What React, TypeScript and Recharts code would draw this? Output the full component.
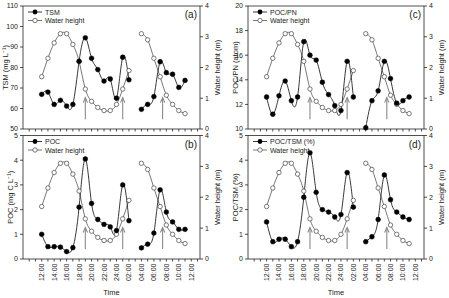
import { ComposedChart, Line, XAxis, YAxis, ReferenceLine } from 'recharts'

// hours after 12:00 on the first day; 03:00 (hour 15) was not sampled
const HOURS = [0, 1, 2, 3, 4, 5, 6, 7, 8, 9, 10, 11, 12, 13, 14, 15, 16, 17, 18, 19, 20, 21, 22, 23]

const WATER_HEIGHT = [1.7, 2.3, 2.8, 3.1, 3.1, 2.75, 2.2, 1.3, 0.9, 0.7, 0.6, 0.6, 0.8, 1.3, 1.9, null, 3.1, 2.9, 2.3, 1.7, 1.1, 0.8, 0.6, 0.5]
const TSM = [66.9, 68, 62, 64, 61.2, 62, 83, 94.5, 84.5, 79, 73.4, 74.4, 65, 85, 74, null, 59.6, 62, 65.8, 82.8, 77.5, 76.7, 70.3, 73.7]
const POC = [1.0, 0.5, 0.5, 0.48, 0.3, 0.46, 2.1, 4.05, 2.25, 1.6, 1.4, 1.3, 1.15, 3.0, 1.55, null, 0.45, 0.6, 1.05, 2.8, 1.9, 1.5, 1.2, 1.2]
const POC_PN = [12.6, 11.2, 12.7, 13.9, 12.3, 12.6, 17.1, 16.0, 15.6, 13.8, 12.8, 11.9, 11.5, 15.5, 12.6, null, 10.1, 12.3, 13.1, 15.5, 14.1, 12.1, 12.3, 12.6]
const POC_TSM = [1.5, 0.7, 0.8, 0.8, 0.5, 0.7, 2.5, 4.3, 2.7, 2.0, 1.9, 1.7, 1.8, 3.5, 2.1, null, 0.7, 0.9, 1.6, 3.4, 2.4, 1.9, 1.7, 1.6]

// slack / turning points marked with arrows (hours after 12:00)
const ARROW_HOURS = [7, 13, 19.4]
const ARROW_SPAN = [0.32, 1.02]

const X_TICKS = [-2, -1, 0, 1, 2, 3, 4, 5, 6, 7, 8, 9, 10, 11, 12, 13, 14, 15, 16, 17, 18, 19, 20, 21, 22, 23, 24, 25]
const HEIGHT_TICKS = [0, 1, 2, 3, 4]

const FONT = '"Liberation Sans", Arial, Helvetica, sans-serif'
const INK = '#222'

const fmtHour = (h: number) => {
  const c = 12 + h
  const v = c > 24 ? c - 24 : c
  return `${String(v).padStart(2, '0')}:00`
}

function TimeTick({ x, y, payload }: any) {
  const h = payload.value
  if (h < 0 || h > 24 || h % 2 !== 0) return <g />
  return (
    <text
      x={x}
      y={y}
      transform={`rotate(-90, ${x}, ${y})`}
      textAnchor="end"
      dominantBaseline="central"
      fontSize={7}
      fill={INK}
      fontFamily={FONT}
    >
      {fmtHour(h)}
    </text>
  )
}

// tick marks only, no labels
const BlankTick = () => <g />

function Arrow(p: any) {
  const { x1, y1, y2 } = p
  const top = Math.min(y1, y2)
  const bottom = Math.max(y1, y2)
  return (
    <g>
      <line x1={x1} y1={bottom} x2={x1} y2={top} stroke="#8a8a8a" strokeWidth={1.1} />
      <path d={`M${x1 - 2.2},${top + 5}L${x1},${top}L${x1 + 2.2},${top + 5}`} fill="none" stroke="#8a8a8a" strokeWidth={1.1} />
    </g>
  )
}

interface PanelProps {
  left: number
  top: number
  width: number
  height: number
  marginTop: number
  xHeight: number
  timeAxis: boolean
  values: (number | null)[]
  yDomain: [number, number]
  yTicks: number[]
  yLabel: string
  labelOffset: number
  name: string
  letter: string
}

function Panel(props: PanelProps) {
  const { left, top, width, height, marginTop, xHeight, timeAxis, values, yDomain, yTicks, yLabel, labelOffset, name, letter } = props
  const data = HOURS.map((h, i) => ({ hour: h, water: WATER_HEIGHT[i], value: values[i] }))
  const axisX = 23
  const plotRight = width - 25
  const plotTop = marginTop
  const tickStyle = { fontSize: 7, fill: INK, fontFamily: FONT }
  const labelStyle = { fontSize: 7.5, fill: INK, fontFamily: FONT, textAnchor: 'middle' as const }

  return (
    <div style={{ position: 'absolute', left, top, width, height }}>
      <ComposedChart width={width} height={height} data={data} margin={{ top: marginTop, right: 0, bottom: 0, left: 0 }}>
        <XAxis
          dataKey="hour"
          type="number"
          domain={[-3, 25.4]}
          allowDataOverflow
          ticks={X_TICKS}
          interval={0}
          height={xHeight}
          tick={timeAxis ? <TimeTick /> : <BlankTick />}
          tickSize={2.5}
          tickMargin={2}
          stroke={INK}
          strokeWidth={0.8}
          label={timeAxis ? { value: 'Time', position: 'insideBottom', offset: 3, style: labelStyle } : undefined}
        />
        <YAxis
          yAxisId="left"
          domain={yDomain}
          ticks={yTicks}
          interval={0}
          width={axisX}
          tickSize={3}
          tickMargin={2}
          tick={tickStyle}
          stroke={INK}
          strokeWidth={0.8}
          label={{ value: yLabel, angle: -90, position: 'insideLeft', offset: labelOffset, style: labelStyle }}
        />
        <YAxis
          yAxisId="right"
          orientation="right"
          domain={[0, 4]}
          ticks={HEIGHT_TICKS}
          interval={0}
          width={25}
          tickSize={3}
          tickMargin={2}
          tick={tickStyle}
          stroke={INK}
          strokeWidth={0.8}
          label={{ value: 'Water height (m)', angle: -90, position: 'insideLeft', offset: 17, style: labelStyle }}
        />
        <ReferenceLine yAxisId="left" y={yDomain[1]} stroke={INK} strokeWidth={0.8} />
        {ARROW_HOURS.map((h) => (
          <ReferenceLine
            key={h}
            yAxisId="right"
            segment={[{ x: h, y: ARROW_SPAN[0] }, { x: h, y: ARROW_SPAN[1] }]}
            shape={<Arrow />}
          />
        ))}
        <Line
          yAxisId="right"
          type="natural"
          dataKey="water"
          stroke="#555"
          strokeWidth={0.8}
          dot={{ r: 2.2, fill: '#fff', stroke: '#444', strokeWidth: 0.7 }}
          isAnimationActive={false}
        />
        <Line
          yAxisId="left"
          type="natural"
          dataKey="value"
          stroke={INK}
          strokeWidth={0.9}
          dot={{ r: 2.4, fill: '#000', stroke: '#000', strokeWidth: 0.5 }}
          isAnimationActive={false}
        />
      </ComposedChart>
      <svg width={width} height={height} style={{ position: 'absolute', left: 0, top: 0, pointerEvents: 'none' }}>
        <g fontFamily={FONT} fontSize={7} fill={INK}>
          <line x1={axisX + 5} x2={axisX + 19} y1={plotTop + 6} y2={plotTop + 6} stroke={INK} strokeWidth={0.9} />
          <circle cx={axisX + 12} cy={plotTop + 6} r={2.4} fill="#000" />
          <text x={axisX + 22} y={plotTop + 6} dominantBaseline="central">{name}</text>
          <line x1={axisX + 5} x2={axisX + 19} y1={plotTop + 14.5} y2={plotTop + 14.5} stroke="#555" strokeWidth={0.8} />
          <circle cx={axisX + 12} cy={plotTop + 14.5} r={2.2} fill="#fff" stroke="#444" strokeWidth={0.7} />
          <text x={axisX + 22} y={plotTop + 14.5} dominantBaseline="central">Water height</text>
        </g>
        <text x={plotRight - 3} y={plotTop + 8.5} textAnchor="end" dominantBaseline="central" fontFamily={FONT} fontSize={10} fill={INK}>
          {letter}
        </text>
      </svg>
    </div>
  )
}

export default function App() {
  return (
    <div style={{ position: 'absolute', left: 0, top: 0, width: 449, height: 298, background: '#fff' }}>
      <Panel left={0} top={0} width={225} height={134} marginTop={6} xHeight={5} timeAxis={false}
        values={TSM} yDomain={[50, 110]} yTicks={[50, 60, 70, 80, 90, 100, 110]}
        yLabel="TSM (mg L⁻¹)" labelOffset={5} name="TSM" letter="(a)" />
      <Panel left={225} top={0} width={224} height={134} marginTop={6} xHeight={5} timeAxis={false}
        values={POC_PN} yDomain={[10, 20]} yTicks={[10, 12, 14, 16, 18, 20]}
        yLabel="POC/PN (atom)" labelOffset={10} name="POC/PN" letter="(c)" />
      <Panel left={0} top={128} width={225} height={170} marginTop={7.5} xHeight={39} timeAxis
        values={POC} yDomain={[0, 5]} yTicks={[0, 1, 2, 3, 4, 5]}
        yLabel="POC (mg C L⁻¹)" labelOffset={10} name="POC" letter="(b)" />
      <Panel left={225} top={128} width={224} height={170} marginTop={7.5} xHeight={39} timeAxis
        values={POC_TSM} yDomain={[0, 5]} yTicks={[0, 1, 2, 3, 4, 5]}
        yLabel="POC/TSM (%)" labelOffset={10} name="POC/TSM (%)" letter="(d)" />
    </div>
  )
}
